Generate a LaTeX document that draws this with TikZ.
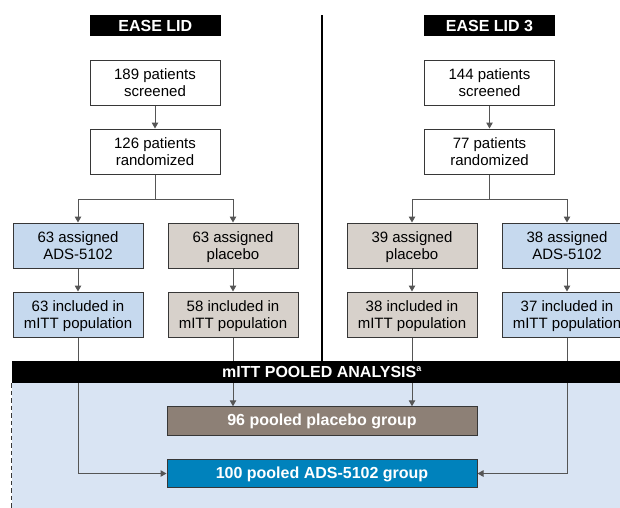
\documentclass[tikz,border=0pt]{standalone}
\usepackage{fontspec}
\setmainfont{Liberation Sans}
\usetikzlibrary{arrows.meta,backgrounds}

\definecolor{armblue}{RGB}{198,217,238}
\definecolor{armgray}{RGB}{215,209,203}
\definecolor{poolbg}{RGB}{217,228,243}
\definecolor{poolgray}{RGB}{141,128,118}
\definecolor{poolblue}{RGB}{0,130,188}
\definecolor{edge}{RGB}{55,55,55}
\definecolor{wire}{RGB}{85,85,85}

\tikzset{
  box/.style={draw=edge, line width=1pt, minimum width=130pt, minimum height=45pt,
    align=center, inner sep=0pt, font=\fontsize{15}{17}\selectfont,
    text height=32.7pt, text depth=4pt},
  bluebox/.style={box, fill=armblue},
  graybox/.style={box, fill=armgray},
  whitebox/.style={box, fill=white},
  studytitle/.style={fill=black, text=white, minimum width=131pt, minimum height=21pt,
    inner sep=0pt, font=\fontsize{16}{18}\selectfont\bfseries},
  pooled/.style={draw=edge, line width=1pt, minimum width=310pt, minimum height=28.5pt,
    inner sep=0pt, text=white, font=\fontsize{16}{18}\selectfont\bfseries,
    text height=11.5pt, text depth=2pt},
  link/.style={draw=wire, line width=1pt},
  flow/.style={link, -{Triangle[width=6.5pt,length=6pt]}},
}

\begin{document}
\begin{tikzpicture}[x=1pt,y=-1pt]
  \useasboundingbox (0,0) rectangle (620,507);
  \clip (0,0) rectangle (620,507);

  % study headings
  \node[studytitle] (t1) at (155.25,25.5) {EASE LID};
  \node[studytitle] (t2) at (489.5,25.5) {EASE LID 3};

  % EASE LID arm
  \node[whitebox] (s1) at (155,82.5) {189 patients\\screened};
  \node[whitebox] (r1) at (155,151.5) {126 patients\\randomized};
  \node[bluebox]  (a1) at (78,245.5)  {63 assigned\\ADS-5102};
  \node[graybox]  (a2) at (233,245.5) {63 assigned\\placebo};
  \node[bluebox]  (m1) at (78,314.5)  {63 included in\\mITT population};
  \node[graybox]  (m2) at (233,314.5) {58 included in\\mITT population};

  % EASE LID 3 arm
  \node[whitebox] (s2) at (489.5,82.5) {144 patients\\screened};
  \node[whitebox] (r2) at (489.5,151.5) {77 patients\\randomized};
  \node[graybox]  (a3) at (412,245.5) {39 assigned\\placebo};
  \node[bluebox]  (a4) at (567,245.5) {38 assigned\\ADS-5102};
  \node[graybox]  (m3) at (412,314.5) {38 included in\\mITT population};
  \node[bluebox]  (m4) at (567,314.5) {37 included in\\mITT population};

  % pooled analysis band and groups
  \node[fill=black, minimum width=620pt, minimum height=22pt, inner sep=0pt,
        text=white, font=\fontsize{16}{18}\selectfont\bfseries]
        (band) at (322,372) {mITT POOLED ANALYSIS\textsuperscript{\fontsize{9}{9}\selectfont a}};
  \node[pooled, fill=poolgray] (pp) at (322,421) {96 pooled placebo group};
  \node[pooled, fill=poolblue] (pa) at (322,473.5) {100 pooled ADS-5102 group};

  \coordinate (split1) at (155,199);
  \coordinate (split2) at (489.5,199);

  \begin{scope}[on background layer]
    % pooled analysis area
    \fill[poolbg] (band.south west) rectangle (632,520);
    \draw[edge, line width=0.9pt, dash pattern=on 4.5pt off 3pt] (band.south west) -- ++(0,140);
    % separator between the two studies
    \draw[black, line width=1.5pt] (322,15) -- (322,361);

    % connectors
    \draw[flow] (s1) -- (r1);
    \draw[link] (r1) -- (split1);
    \draw[flow] (split1) -| (a1);
    \draw[flow] (split1) -| (a2);
    \draw[flow] (a1) -- (m1);
    \draw[flow] (a2) -- (m2);

    \draw[flow] (s2) -- (r2);
    \draw[link] (r2) -- (split2);
    \draw[flow] (split2) -| (a3);
    \draw[flow] (split2) -| (a4);
    \draw[flow] (a3) -- (m3);
    \draw[flow] (a4) -- (m4);

    \draw[flow] (m2.south) -- (m2.south |- pp.north);
    \draw[flow] (m3.south) -- (m3.south |- pp.north);
    \draw[flow] (m1.south) |- (pa.west);
    \draw[flow] (m4.south) |- (pa.east);
  \end{scope}
\end{tikzpicture}
\end{document}
